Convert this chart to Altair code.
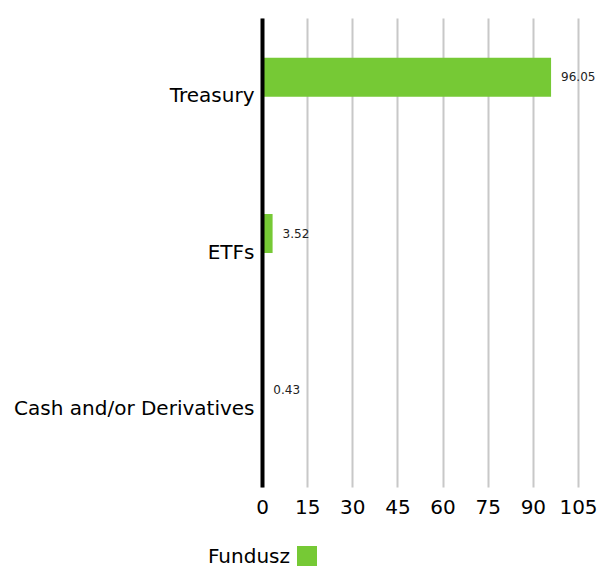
import altair as alt
import pandas as pd

categories = ["Treasury", "ETFs", "Cash and/or Derivatives"]
values = [96.05, 3.52, 0.43]
series_name = "Fundusz"
x_ticks = [0, 15, 30, 45, 60, 75, 90, 105]

df = pd.DataFrame({
    "category": categories,
    "value": values,
    "series": [series_name] * len(categories),
})
legend_df = pd.DataFrame({"series": [series_name]})

FONT = "DejaVu Sans"
GREEN = "#76c935"
color_scale = alt.Scale(domain=[series_name], range=[GREEN])

y_enc = alt.Y(
    "category:N",
    sort=categories,
    scale=alt.Scale(paddingInner=0, paddingOuter=0),
    axis=alt.Axis(
        title=None, labelFontSize=20, labelColor="#000000", labelFont=FONT,
        domainColor="#000000", domainWidth=4, ticks=False, labelPadding=8,
        grid=False, labelLimit=400, zindex=1,
    ),
)
x_enc = alt.X(
    "value:Q",
    scale=alt.Scale(domain=[0, 105], nice=False),
    axis=alt.Axis(
        title=None, values=x_ticks, labelFontSize=20, labelColor="#000000",
        labelFont=FONT, grid=True, gridColor="#c8c8c8", gridWidth=2,
        domain=False, ticks=False, labelPadding=10, labelFlush=False,
    ),
)

base = alt.Chart(df)

bars = base.mark_bar(height=39, yOffset=-19).encode(
    y=y_enc,
    x=x_enc,
    color=alt.Color("series:N", scale=color_scale, legend=None),
)

labels = base.mark_text(
    align="left", baseline="middle", dx=10, yOffset=-19,
    fontSize=12, font=FONT, color="#222222",
).encode(
    y=alt.Y("category:N", sort=categories),
    x=alt.X("value:Q"),
    text=alt.Text("value:Q", format=".2f"),
)

# legend (text left of a green square), placed below the axis
legend_square = alt.Chart(legend_df).mark_square(size=400, opacity=1).encode(
    x=alt.value(45),
    y=alt.value(538),
    color=alt.Color("series:N", scale=color_scale, legend=None),
)
legend_text = alt.Chart(legend_df).mark_text(
    align="right", baseline="alphabetic", fontSize=20, font=FONT, color="#000000",
).encode(
    x=alt.value(28),
    y=alt.value(545),
    text="series:N",
)

chart = (
    alt.layer(bars, labels, legend_square, legend_text)
    .properties(
        width=316, height=469,
        autosize=alt.AutoSizeParams(type="none"),
        padding={"left": 254, "top": 10, "right": 20, "bottom": 82},
    )
    .configure_view(stroke=None)
)

chart.save("out.html", embed_options={"renderer": "svg", "actions": False})
